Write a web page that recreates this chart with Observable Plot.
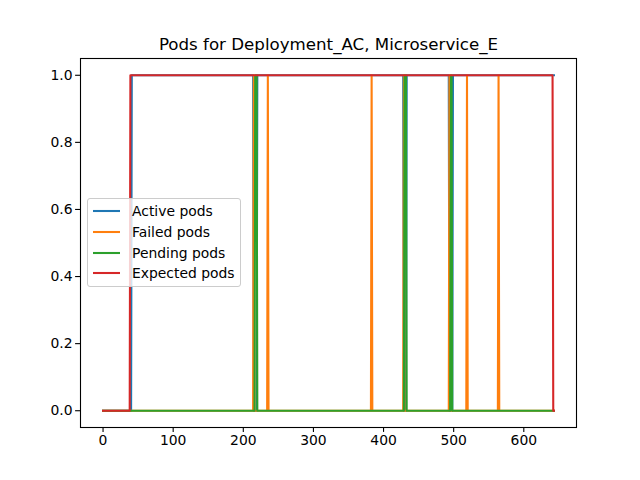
<!DOCTYPE html>
<html>
<head>
<meta charset="utf-8">
<script src="https://cdn.jsdelivr.net/npm/d3@7"></script>
<script src="https://cdn.jsdelivr.net/npm/@observablehq/plot@0.6"></script>
<style>
  body { margin: 0; background: #fff; font-family: "DejaVu Sans", sans-serif; }
  #wrap { position: relative; width: 640px; height: 480px; }
  #legend {
    position: absolute; left: 87px; top: 198px; width: 152px; height: 87px;
    background: rgba(255,255,255,0.8); border: 1px solid #cccccc; border-radius: 3px;
    box-sizing: content-box;
  }
  .row { position: absolute; left: 0; height: 20px; display: flex; align-items: center; font-size: 13.9px; color: #000; white-space: nowrap; }
  .row svg { margin-left: 4px; margin-right: 11px; }
</style>
</head>
<body>
<div id="wrap"></div>
<script>
const title = "Pods for Deployment_AC, Microservice_E";
const seriesNames = ["Active pods", "Failed pods", "Pending pods", "Expected pods"];
const seriesColors = ["#1f77b4", "#ff7f0e", "#2ca02c", "#d62728"];

// breakpoints (time step, pod count) of each step series
const activeT  = [0, 40, 41, 214, 215, 219, 220, 428, 429, 432, 433, 493, 494, 498, 499, 643];
const activeV  = [0, 0, 1, 1, 0, 0, 1, 1, 0, 0, 1, 1, 0, 0, 1, 1];
const failedT  = [0, 214, 215, 216, 234, 235, 236, 382, 383, 384, 428, 429, 430, 493, 494, 495, 518, 519, 520, 563, 564, 565, 643];
const failedV  = [0, 0, 1, 0, 0, 1, 0, 0, 1, 0, 0, 1, 0, 0, 1, 0, 0, 1, 0, 0, 1, 0, 0];
const pendingT = [0, 216, 217, 219, 220, 429, 430, 432, 433, 495, 496, 497, 498, 643];
const pendingV = [0, 0, 1, 1, 0, 0, 1, 1, 0, 0, 1, 1, 0, 0];
const expectedT = [0, 38, 39, 641, 642, 643];
const expectedV = [0, 0, 1, 1, 0, 0];

const xTicks = [0, 100, 200, 300, 400, 500, 600];
const yTicks = [0, 0.2, 0.4, 0.6, 0.8, 1.0];

const seriesT = [activeT, failedT, pendingT, expectedT];
const seriesV = [activeV, failedV, pendingV, expectedV];

const tables = seriesNames.map((name, i) =>
  seriesT[i].map((t, j) => ({series: name, t, v: seriesV[i][j]})));

const xMin = 0, xMax = 643;
const xPad = (xMax - xMin) * 0.05;

const chart = Plot.plot({
  width: 640,
  height: 480,
  marginLeft: 80,
  marginRight: 64,
  marginTop: 58,
  marginBottom: 53,
  style: {fontFamily: "DejaVu Sans, sans-serif", color: "#000", background: "#fff"},
  x: {domain: [xMin - xPad, xMax + xPad]},
  y: {domain: [-0.05, 1.05]},
  marks: [
    ...tables.map((tab, i) => Plot.line(tab, {
      x: "t", y: "v", stroke: seriesColors[i], strokeWidth: 2.08,
      strokeLinecap: "square", strokeLinejoin: "round"
    })),
    Plot.frame({stroke: "#000", strokeWidth: 1.1}),
    Plot.axisX({ticks: xTicks, tickSize: 4.9, tickPadding: 3, strokeWidth: 1.1, fontSize: 13.9, tickFormat: d => String(d), label: null}),
    Plot.axisY({ticks: yTicks, tickSize: 4.9, tickPadding: 3, strokeWidth: 1.1, fontSize: 13.9, tickFormat: d3.format(".1f"), label: null}),
    Plot.text([title], {frameAnchor: "top", text: d => d, lineAnchor: "bottom", dy: -9, fontSize: 16.67, fill: "#000"})
  ]
});

const wrap = document.getElementById("wrap");
wrap.appendChild(chart);

const legend = document.createElement("div");
legend.id = "legend";
seriesNames.forEach((name, i) => {
  const row = document.createElement("div");
  row.className = "row";
  row.style.top = (2 + i * 20.8) + "px";
  row.innerHTML = `<svg width="29" height="4"><line x1="1" y1="2" x2="28" y2="2" stroke="${seriesColors[i]}" stroke-width="2.08"/></svg><span>${name}</span>`;
  legend.appendChild(row);
});
wrap.appendChild(legend);
</script>
</body>
</html>
